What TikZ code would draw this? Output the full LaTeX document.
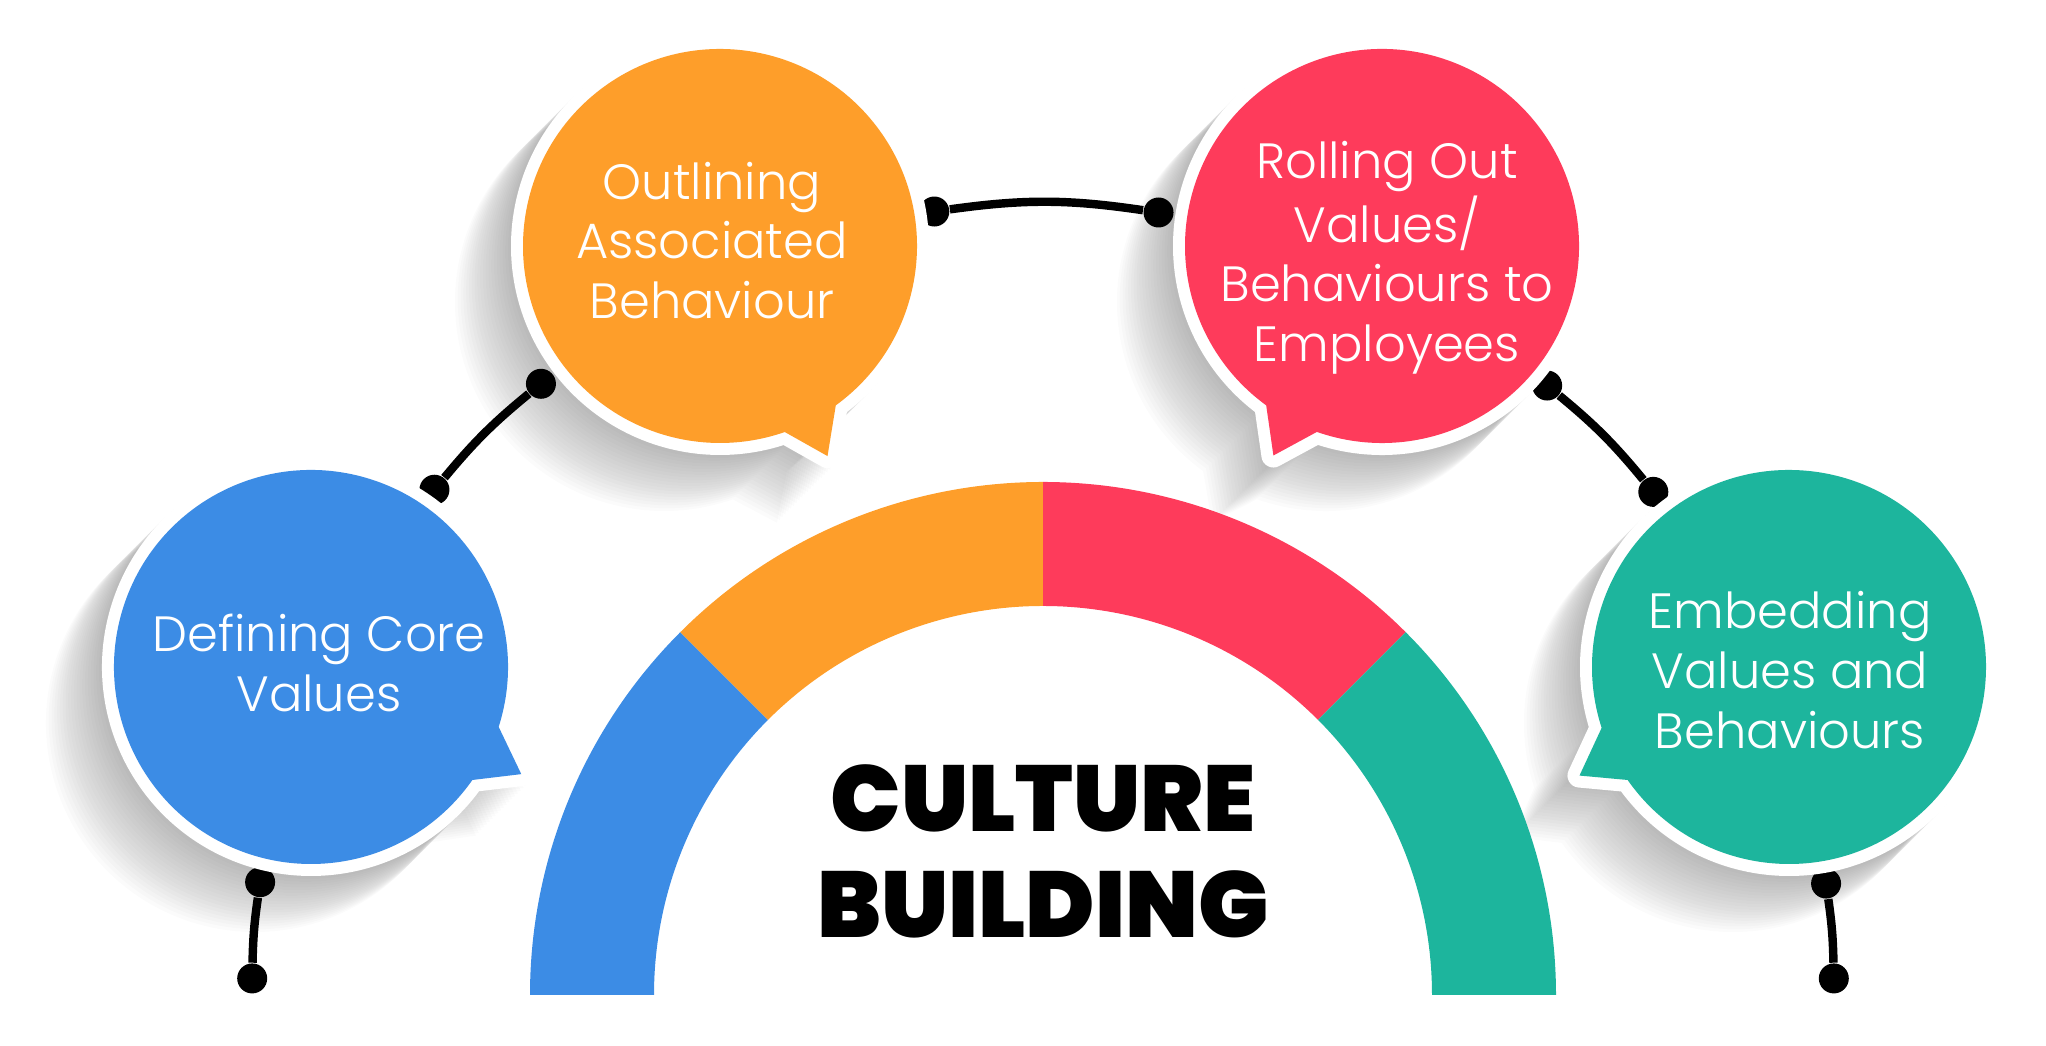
\documentclass[tikz,border=0pt]{standalone}
\usepackage{fontspec}
\setmainfont{Poppins}
\newfontfamily\bubblefont{Poppins Light}
\newfontfamily\titlefont{Poppins Black}
\usetikzlibrary{calc}
\definecolor{cbblue}{HTML}{3C8CE5}
\definecolor{cborange}{HTML}{FE9E2A}
\definecolor{cbred}{HTML}{FE3B5B}
\definecolor{cbteal}{HTML}{1DB59D}
% speech bubble: centre, upper tail angle, lower tail angle, tip angle, radius
\newcommand\bubblepath[5]{(#1) ++(#2:#5) arc[start angle=#2, end angle=#3+360, radius=#5] -- ($(#1)+(#4:{#5+0.39})$) -- cycle}
\tikzset{link/.style={draw=black,line width=2.4pt},dot/.style={circle,fill=black,inner sep=0pt,minimum size=0.30cm},rim/.style={draw=white,fill=white,line width=0.24cm,line join=round},label/.style={font=\bubblefont\fontsize{14.1}{17}\selectfont,text=white,align=center,inner sep=0pt},heading/.style={font=\titlefont\fontsize{26.6}{30.4}\selectfont,align=center,inner sep=0pt}}

\begin{document}
\begin{tikzpicture}
\useasboundingbox (0,0) rectangle (20.46,10.46);
\coordinate (hub) at (10.43,0.51);
\coordinate (cblue) at (3.11,3.79);
\coordinate (corange) at (7.20,8.00);
\coordinate (cred) at (13.82,8.00);
\coordinate (cteal) at (17.89,3.79);
% long soft shadows
\foreach \c/\a/\b/\t in {cblue/-17.7/-35/-27,corange/-54/-70.8/-62.9,cred/-109.3/-126/-117.4,cteal/-145/-162/-152.6}
  \foreach \k in {1,...,20}
    \fill[black,opacity=0.015,transform canvas={shift={(-0.028*\k,-0.028*\k)}}] \bubblepath{\c}{\a}{\b}{\t}{2.09};
% arch
\foreach \s/\e/\col in {180/135/cbblue,135/90/cborange,90/45/cbred,45/0/cbteal}
  \fill[\col] ($(hub)+(\s:5.13)$) arc[start angle=\s,end angle=\e,radius=5.13] -- ($(hub)+(\e:3.89)$) arc[start angle=\e,end angle=\s,radius=3.89] -- cycle;
\node[heading] (title) at (10.43,1.945) {CULTURE\\BUILDING};
% connectors on the outer ring
\foreach \n/\a/\b in {1/178.8/171.8,2/140.3/129.4,3/97.9/81.6,4/50.4/39.5,5/8.1/1.2}{
  \node[dot] (p\n a) at ($(hub)+(\a:7.91)$) {};
  \node[dot] (p\n b) at ($(hub)+(\b:7.91)$) {};
  \pgfmathsetmacro\bnd{(\a-\b)/2}
  \draw[link] (p\n a) to[bend left=\bnd] (p\n b);
}
% bubbles
\foreach \c/\a/\b/\t/\col in {cblue/-17.7/-35/-27/cbblue,corange/-54/-70.8/-62.9/cborange,cred/-109.3/-126/-117.4/cbred,cteal/-145/-162/-152.6/cbteal}{
  \path[rim] \bubblepath{\c}{\a}{\b}{\t}{1.97};
  \fill[\col] \bubblepath{\c}{\a}{\b}{\t}{1.97};
}
\node[label] (core) at (3.19,3.83) {Defining Core\\Values};
\node[label] (outline) at (7.12,8.055) {Outlining\\Associated\\Behaviour};
\node[label] (rollout) at (13.87,7.88) {Rolling Out\\Values/\\Behaviours to\\Employees};
\node[label] (embed) at (17.90,3.76) {Embedding\\Values and\\Behaviours};
\end{tikzpicture}
\end{document}
